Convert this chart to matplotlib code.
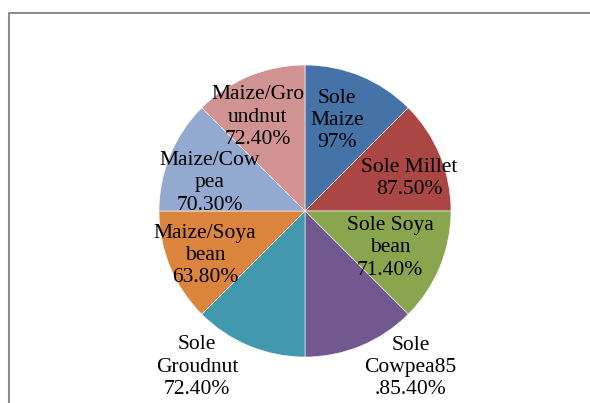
import numpy as np
import matplotlib.pyplot as plt
from matplotlib.patches import Rectangle

# slice labels as printed on the chart (clockwise from 12 o'clock)
labels = ['Sole\nMaize\n97%', 'Sole Millet\n87.50%', 'Sole Soya\nbean\n71.40%',
          'Sole\nCowpea85\n.85.40%', 'Sole\nGroudnut\n72.40%',
          'Maize/Soya\nbean\n63.80%', 'Maize/Cow\npea\n70.30%',
          'Maize/Gro\nundnut\n72.40%']
# every slice is drawn the same size in the picture
shares = [1, 1, 1, 1, 1, 1, 1, 1]
colors = ['#4572A7', '#AA4643', '#89A54E', '#71588F',
          '#4198AF', '#DB843D', '#93A9CF', '#D19392']

# where each label sits: distance from centre (in radii) and angle (deg)
label_r = [0.66, 0.75, 0.635, 1.29, 1.30, 0.75, 0.68, 0.72]
label_ang = [70.6, 17.4, -23.5, -56.0, -124.7, -156.0, 163.6, 116.6]

plt.rcParams['font.family'] = ['Liberation Serif', 'DejaVu Serif']

fig = plt.figure(figsize=(5.9, 4.03), dpi=100)
ax = fig.add_axes([159/590, 46/403, 292/590, 292/403])

ax.pie(shares, colors=colors, startangle=90, counterclock=False,
       wedgeprops=dict(edgecolor='white', linewidth=0.4))
ax.set_xlim(-1, 1)
ax.set_ylim(-1, 1)
ax.set_aspect('equal')

for lab, r, a in zip(labels, label_r, label_ang):
    t = np.deg2rad(a)
    ax.text(r * np.cos(t), r * np.sin(t), lab, ha='center', va='center',
            fontsize=15.5, linespacing=1.22, color='black')

# the chart-area border (cut off on the right and bottom)
fig.add_artist(Rectangle((8.5/590, -0.2), 1.5, (403-12.5)/403 + 0.2,
                         transform=fig.transFigure, fill=False,
                         edgecolor='#8c8c8c', linewidth=1.5))

plt.savefig('out.png', dpi=100)
